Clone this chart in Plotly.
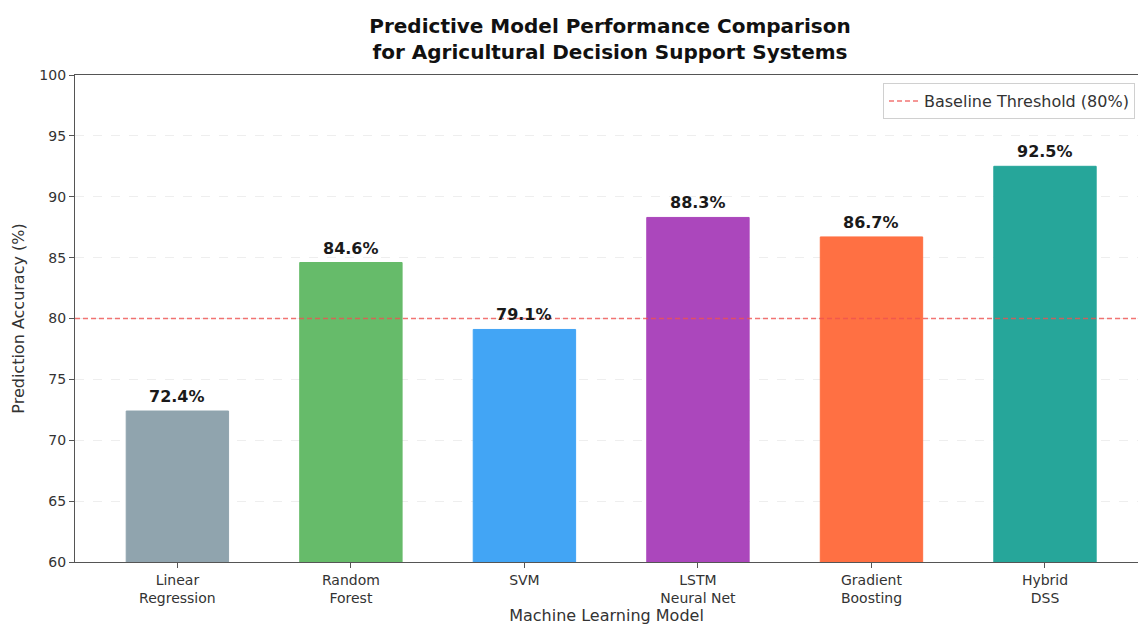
import plotly.graph_objects as go

models = ["Linear<br>Regression", "Random<br>Forest", "SVM", "LSTM<br>Neural Net", "Gradient<br>Boosting", "Hybrid<br>DSS"]
accuracy = [72.4, 84.6, 79.1, 88.3, 86.7, 92.5]
colors = ["#90A4AE", "#66BB6A", "#42A5F5", "#AB47BC", "#FF7043", "#26A69A"]
threshold = 80
threshold_label = "Baseline Threshold (80%)"
yticks = [60, 65, 70, 75, 80, 85, 90, 95, 100]

W, H = 1138, 626
L, R, T, B = 75, 0, 75, 64
XR = [-0.59, 5.536]
x = list(range(len(models)))
FONT = "DejaVu Sans"

fig = go.Figure()
fig.add_trace(go.Bar(
    x=x, y=accuracy, width=0.59,
    marker=dict(color=colors, line=dict(color=colors, width=1)),
    showlegend=False, hoverinfo="skip",
))
fig.add_trace(go.Scatter(
    x=XR, y=[threshold, threshold], mode="lines",
    line=dict(color="rgba(239,83,80,0.8)", width=1.5, dash="5px,3px"),
    name=threshold_label, showlegend=True,
))
for xi, v in zip(x, accuracy):
    fig.add_annotation(x=xi, y=v, text=f"<b>{v:.1f}%</b>", showarrow=False,
                       yanchor="bottom", yshift=3,
                       font=dict(family=FONT, size=16, color="#1a1a1a"))

fig.update_layout(
    width=W, height=H,
    margin=dict(l=L, r=R, t=T, b=B),
    paper_bgcolor="white", plot_bgcolor="white",
    font=dict(family=FONT, color="#333333"),
    title=dict(
        text="<b>Predictive Model Performance Comparison<br>for Agricultural Decision Support Systems</b>",
        x=610 / W, xanchor="center",
        y=1 - 33 / H, yanchor="middle",
        font=dict(family=FONT, size=20, color="#111111"),
    ),
    legend=dict(
        x=(1135 - L) / (W - L - R), y=1 - 8 / (H - T - B), xanchor="right", yanchor="top",
        bgcolor="rgba(255,255,255,0.9)", bordercolor="#d0d0d0", borderwidth=1,
        font=dict(family=FONT, size=16, color="#333333"),
        itemwidth=30,
    ),
)
fig.update_xaxes(
    range=XR, tickmode="array", tickvals=x, ticktext=models,
    showline=True, linecolor="#555555", linewidth=1.3, mirror=True,
    ticks="outside", ticklen=5, tickcolor="#555555",
    tickfont=dict(family=FONT, size=14, color="#333333"),
    showgrid=False, zeroline=False,
    title=dict(text="Machine Learning Model", standoff=4,
               font=dict(family=FONT, size=16, color="#333333")),
)
fig.update_yaxes(
    range=[60, 100], tickmode="array", tickvals=yticks,
    showline=True, linecolor="#555555", linewidth=1.3,
    ticks="outside", ticklen=5, tickcolor="#555555",
    tickfont=dict(family=FONT, size=14, color="#333333"),
    showgrid=True, gridcolor="#eeeeee", griddash="dash", gridwidth=1,
    zeroline=False,
    title=dict(text="Prediction Accuracy (%)", standoff=10,
               font=dict(family=FONT, size=16, color="#333333")),
)
fig.write_html("out.html")
